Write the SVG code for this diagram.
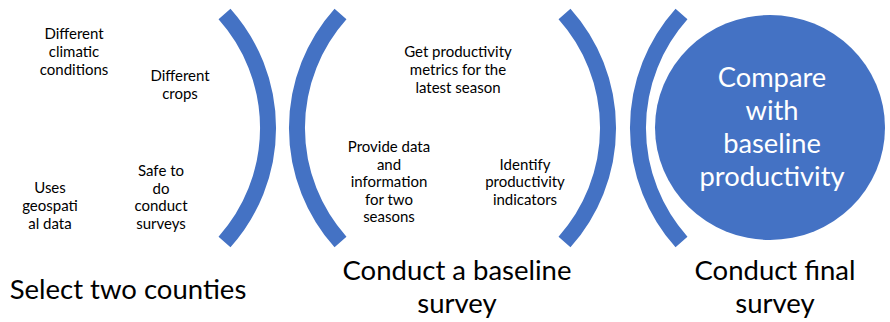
<svg xmlns="http://www.w3.org/2000/svg" width="890" height="322" viewBox="0 0 890 322">
  <style>
    .bracket { fill: none; stroke: #4472C4; stroke-width: 16; stroke-linecap: butt; }
    .note { font-family: Lato, "Liberation Sans", sans-serif; font-size: 15px; fill: #000; text-anchor: middle; }
    .caption { font-family: Lato, "Liberation Sans", sans-serif; font-size: 27.5px; fill: #000; text-anchor: middle; }
    .goal { font-family: Lato, "Liberation Sans", sans-serif; font-size: 27.3px; fill: #fff; text-anchor: middle; }
  </style>
  <rect width="890" height="322" fill="#fff"/>

  <!-- Step 1: choose the two counties -->
  <g id="select-counties">
    <path class="bracket" d="M224.5 14 A171 171 0 0 1 224.5 242"/>
    <text class="note" x="74" y="39">Different</text>
    <text class="note" x="74" y="57">climatic</text>
    <text class="note" x="74" y="75">conditions</text>
    <text class="note" x="180" y="81">Different</text>
    <text class="note" x="180" y="99">crops</text>
    <text class="note" x="50" y="193">Uses</text>
    <text class="note" x="50" y="211">geospati</text>
    <text class="note" x="50" y="229">al data</text>
    <text class="note" x="161" y="176">Safe to</text>
    <text class="note" x="161" y="193.5">do</text>
    <text class="note" x="161" y="211">conduct</text>
    <text class="note" x="161" y="228.5">surveys</text>
    <text class="caption" x="128" y="299">Select two counties</text>
  </g>

  <!-- Step 2: baseline survey -->
  <g id="baseline-survey">
    <path class="bracket" d="M340.5 14 A171 171 0 0 0 340.5 242"/>
    <path class="bracket" d="M564.5 14 A171 171 0 0 1 564.5 242"/>
    <text class="note" x="458" y="57">Get productivity</text>
    <text class="note" x="458" y="75">metrics for the</text>
    <text class="note" x="458" y="93">latest season</text>
    <text class="note" x="389" y="152">Provide data</text>
    <text class="note" x="389" y="169.5">and</text>
    <text class="note" x="389" y="187">information</text>
    <text class="note" x="389" y="204.5">for two</text>
    <text class="note" x="389" y="222">seasons</text>
    <text class="note" x="525" y="169.5">Identify</text>
    <text class="note" x="525" y="187">productivity</text>
    <text class="note" x="525" y="204.5">indicators</text>
    <text class="caption" x="457" y="280">Conduct a baseline</text>
    <text class="caption" x="457" y="313">survey</text>
  </g>

  <!-- Step 3: final survey -->
  <g id="final-survey">
    <path class="bracket" d="M681.5 14 A171 171 0 0 0 681.5 242"/>
    <ellipse cx="770" cy="127.5" rx="115" ry="112.5" fill="#4472C4"/>
    <text class="goal" x="772" y="87">Compare</text>
    <text class="goal" x="772" y="120">with</text>
    <text class="goal" x="772" y="153">baseline</text>
    <text class="goal" x="772" y="186">productivity</text>
    <text class="caption" x="775" y="280">Conduct final</text>
    <text class="caption" x="775" y="313">survey</text>
  </g>

  <!-- no connectors between the steps -->
  <g id="connectors"/>
</svg>
